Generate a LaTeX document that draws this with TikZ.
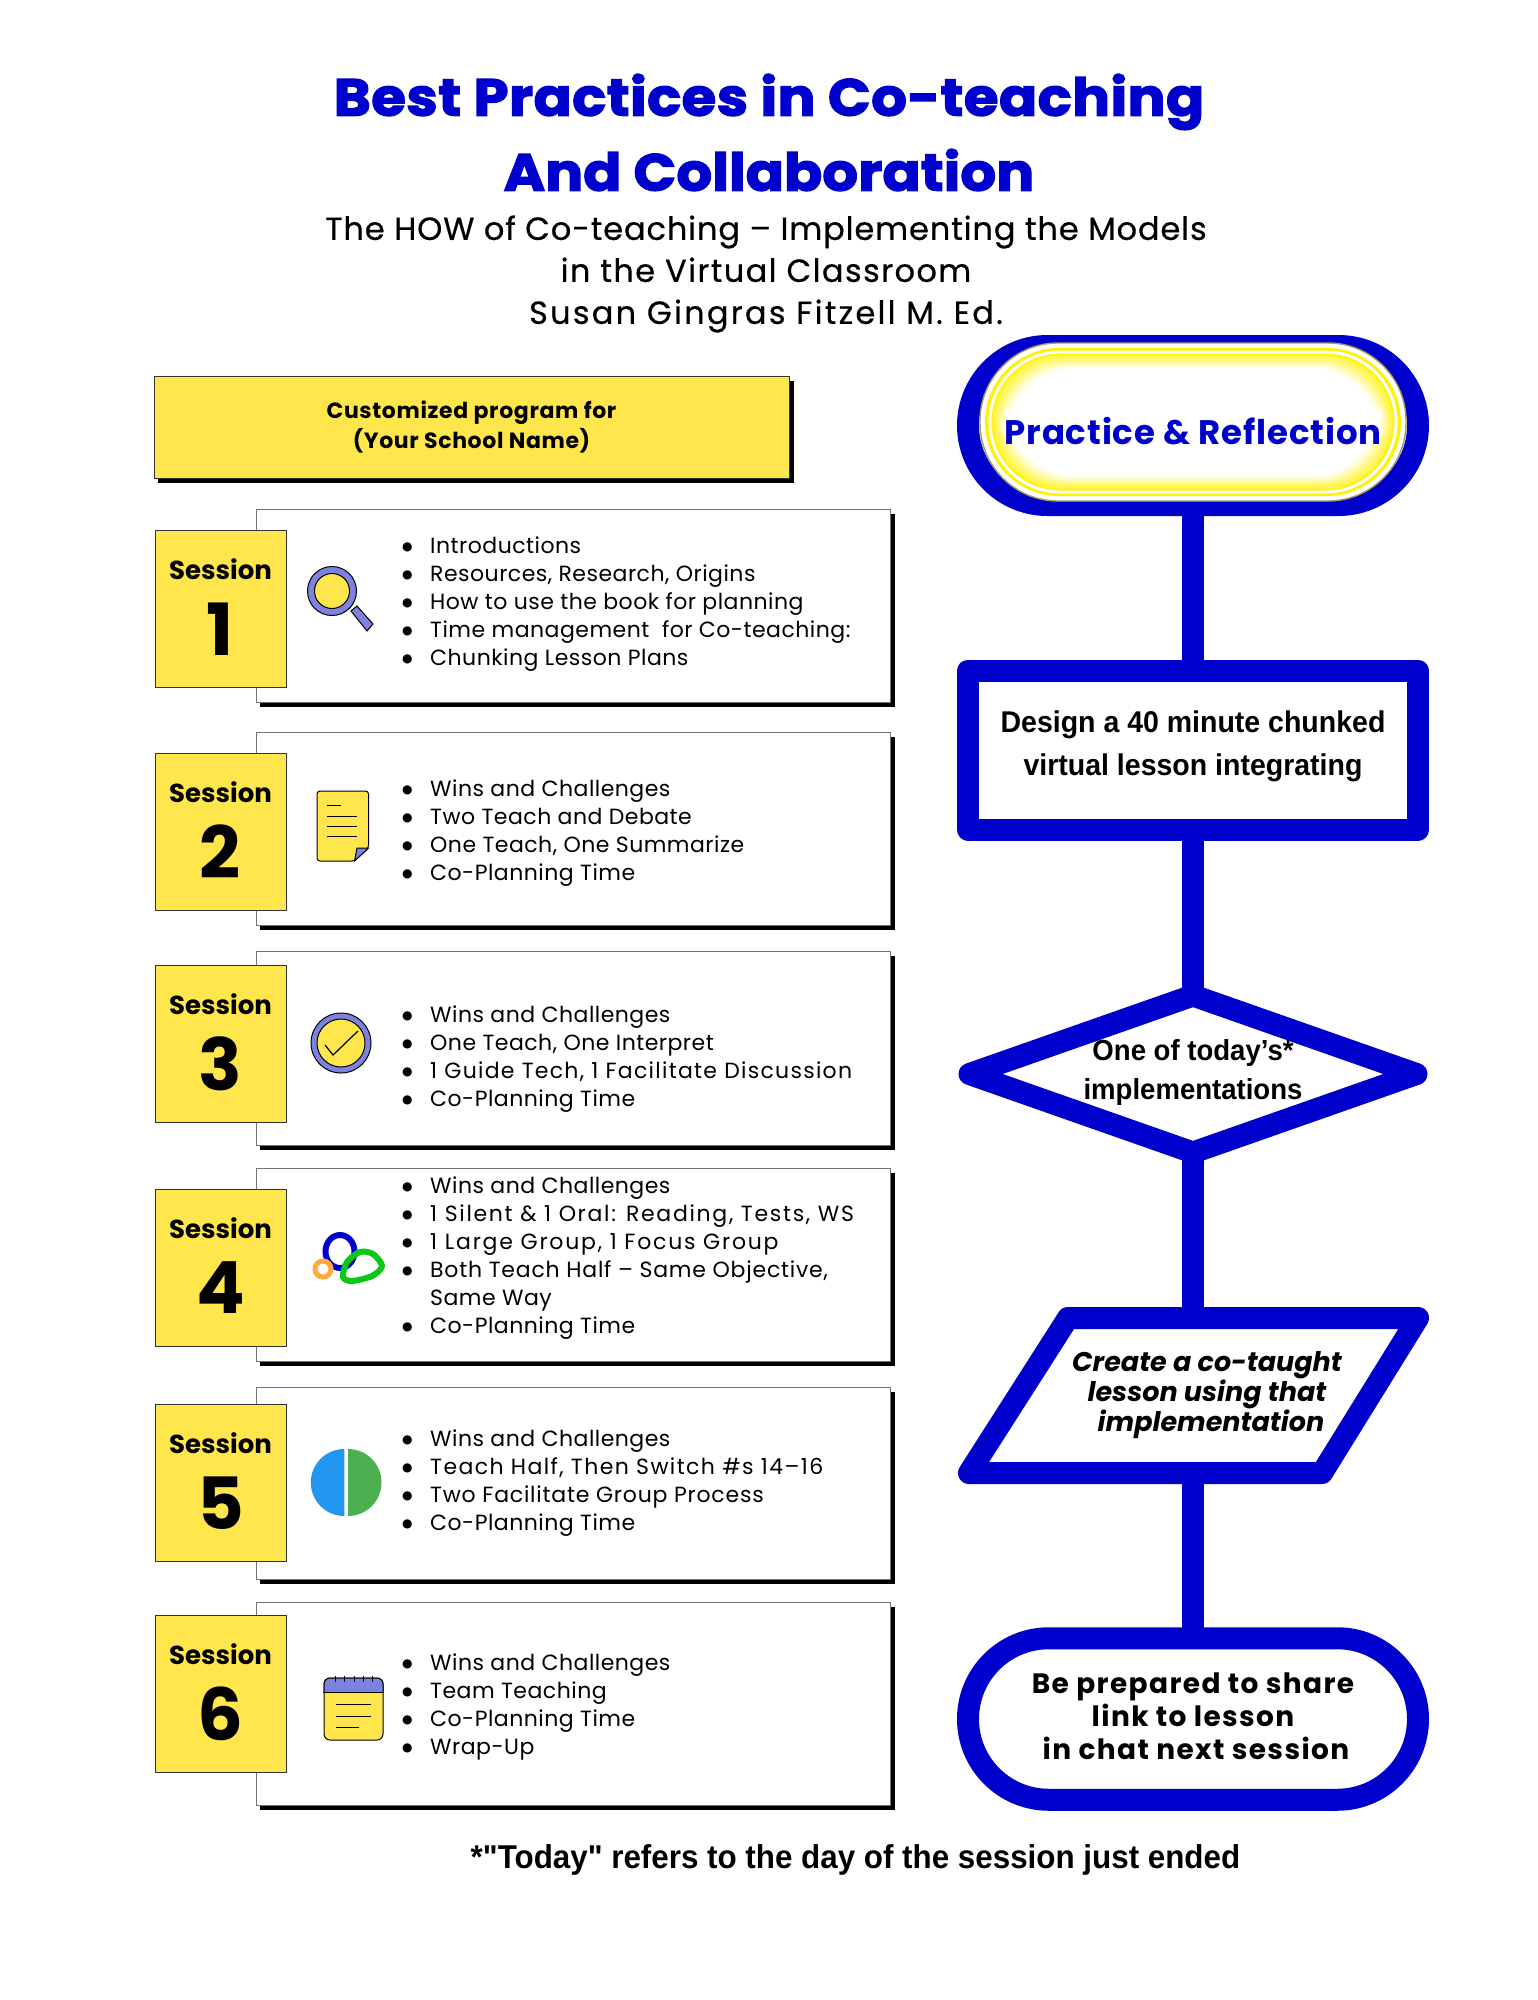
\documentclass[tikz,border=0pt]{standalone}
\usepackage{fontspec}
\usetikzlibrary{shapes.geometric,shapes.misc}
\setmainfont{Poppins}
\newfontfamily\robotofont{Liberation Sans}[FakeStretch=0.95]
\newfontfamily\bulletfont{DejaVu Sans}
\definecolor{flowblue}{RGB}{0,0,204}
\definecolor{tagyellow}{RGB}{255,230,77}
\definecolor{iconblue}{RGB}{125,130,222}
\definecolor{pieblue}{RGB}{33,150,243}
\definecolor{piegreen}{RGB}{76,175,80}
\definecolor{ringgreen}{RGB}{10,200,20}
\definecolor{ringorange}{RGB}{255,169,64}
\tikzset{
  flowline/.style={line width=22pt,draw=flowblue,line join=round},
  flowbox/.style={flowline,fill=white,outer sep=0pt,inner sep=0pt},
  flowtext/.style={align=center,font=\robotofont\bfseries\fontsize{30}{43}\selectfont},
  tagbox/.style={draw=black!80,fill=tagyellow,line width=1pt,inner sep=0pt},
  itemlist/.style={anchor=west,align=left,inner sep=0pt,font=\fontsize{22}{28}\selectfont\addfontfeatures{LetterSpace=2.2}},
  icon/.style={draw=black,line width=1pt}
}
\newcommand{\itm}{\makebox[27pt][l]{\hspace*{-1pt}\raisebox{3pt}{\bulletfont\fontsize{12}{12}\selectfont ●}}}
\newcommand{\wide}[2]{{\addfontfeatures{LetterSpace=#1}#2}}
\begin{document}
\begin{tikzpicture}[x=1pt,y=-1pt]
\useasboundingbox (0,0) rectangle (1538,2000);
% heading
\node[align=center,text=flowblue,font=\bfseries\fontsize{52}{75}\selectfont\addfontfeatures{FakeBold=2.5,FakeStretch=1.08,LetterSpace=1}] (title) at (769,132.5) {Best Practices in Co-teaching\\\wide{.3}{And Collaboration}};
\node[align=center,font=\fontsize{32}{42}\selectfont\addfontfeatures{FakeBold=.5,LetterSpace=2.8}] (subtitle) at (766,274) {The HOW of Co-teaching -- Implementing the Models\\\wide{4.4}{in the Virtual Classroom}\\\wide{7}{Susan Gingras Fitzell M. Ed.}};
% program box
\fill (158,381) rectangle (794,483);
\node[tagbox,minimum width=635pt,minimum height=102pt] (program) at (471.5,427) {};
\node[align=center,font=\bfseries\fontsize{22}{30}\selectfont\addfontfeatures{LetterSpace=2.9}] (programtext) at (program) {Customized program for\\(Your School Name)};
% sessions
\foreach \n/\top/\bot/\ytag in {1/509/702/530,2/732/925/753,3/951/1145/965,4/1168/1361/1189,5/1387/1579/1404,6/1602/1805/1615}{
  \fill (260,\top+5) rectangle (895,\bot+5);
  \draw[black!55,fill=white,line width=1pt] (256,\top) rectangle (890.5,\bot);
  \node[tagbox,minimum width=131pt,minimum height=157pt] (tag\n) at (220.5,\ytag+78.5) {};
  \node[font=\bfseries\fontsize{26}{30}\selectfont] (sess\n) at (220.5,\ytag+39) {Session};
  \node[font=\bfseries\fontsize{72}{80}\selectfont] (num\n) at (220.5,\ytag+99) {\n};
}
% item lists
\node[itemlist] (list1) at (403,604.5) {\itm Introductions\\\itm Resources, Research, Origins\\\itm How to use the book for planning\\\itm Time management\ \ for Co-teaching:\\\itm Chunking Lesson Plans};
\node[itemlist] (list2) at (403,833) {\itm Wins and Challenges\\\itm Two Teach and Debate\\\itm One Teach, One Summarize\\\itm Co-Planning Time};
\node[itemlist] (list3) at (403,1059) {\itm Wins and Challenges\\\itm One Teach, One Interpret\\\itm \wide{5.8}{1 Guide Tech, 1 Facilitate Discussion}\\\itm Co-Planning Time};
\node[itemlist] (list4) at (403,1258) {\itm Wins and Challenges\\\itm \wide{7.7}{1 Silent \& 1 Oral: Reading, Tests, WS}\\\itm \wide{8}{1 Large Group, 1 Focus Group}\\\itm \wide{3.5}{Both Teach Half -- Same Objective,}\\\hspace*{27pt}Same Way\\\itm Co-Planning Time};
\node[itemlist] (list5) at (403,1483) {\itm Wins and Challenges\\\itm \wide{6.4}{Teach Half, Then Switch \#s 14--16}\\\itm \wide{3.5}{Two Facilitate Group Process}\\\itm Co-Planning Time};
\node[itemlist] (list6) at (403,1707) {\itm Wins and Challenges\\\itm Team Teaching\\\itm Co-Planning Time\\\itm Wrap-Up};
% icons
\draw[icon,fill=iconblue] (351,611) -- (357,606) -- (373,624) -- (367,631) -- cycle;
\draw[icon,fill=iconblue] (332,591) circle (24.5);
\draw[icon,fill=tagyellow] (332,591) circle (17.5);
\draw[icon,fill=tagyellow,rounded corners=3pt] (317,791) -- (368.5,791) -- (368.5,848) -- (354.5,861) -- (317,861) -- cycle;
\draw[icon,fill=iconblue] (368.5,848) -- (357,848) -- (354.5,861) -- cycle;
\draw[line width=.8pt] (327,805) -- (341,805);
\foreach \y in {816,826,836} \draw[line width=.8pt] (327,\y) -- (357,\y);
\draw[icon,fill=iconblue] (341,1043) circle (30);
\draw[icon,fill=tagyellow] (341,1043) circle (24);
\draw[line width=1.2pt] (325,1045) -- (333,1055) -- (358,1031);
\draw[flowblue,line width=6pt] (340,1251.5) ellipse (14.5 and 16.5);
\draw[ringorange,line width=5pt] (323,1269) circle (8);
\draw[ringgreen,line width=6pt] plot[smooth cycle] coordinates {(343,1277) (347,1262) (360,1252) (373,1254) (382,1266) (372,1276) (352,1281)};
\fill[pieblue] (344.3,1516) arc (90:270:33.5) -- cycle;
\fill[piegreen] (348,1516) arc (90:-90:33.5) -- cycle;
\draw[icon,fill=tagyellow,rounded corners=6pt] (324,1678) rectangle (383,1740);
\draw[icon,fill=iconblue,rounded corners=6pt] (324,1692.5) -- (324,1678) -- (383,1678) -- (383,1692.5);
\draw[line width=1pt] (323,1692.5) -- (384,1692.5);
\foreach \x in {335,344,354,363,372} \draw[line width=1pt] (\x,1675.5) -- (\x,1682);
\draw[line width=1pt] (336,1704) -- (371,1704);
\draw[line width=1pt] (336,1716) -- (371,1716);
\draw[line width=1pt] (336,1727.5) -- (359,1727.5);
% flow chart
\node[flowbox,rounded rectangle,minimum width=450pt,minimum height=159pt] (practice) at (1193,425.5) {};
\foreach \i in {0,...,4}{
  \pgfmathsetmacro{\p}{100-\i*9}
  \draw[line width=1.4pt,draw=yellow!\p!flowblue,fill=white,rounded corners=78pt] (984-\i,347-\i) rectangle (1402+\i,497+\i);
}
\fill[yellow,rounded corners=74pt] (985,348) rectangle (1401,496);
\draw[line width=3pt,white,fill=yellow,rounded corners=70pt] (990,352) rectangle (1396,492);
\foreach \i in {1,...,10}{
  \pgfmathsetmacro{\p}{90-\i*9}
  \draw[line width=2pt,draw=yellow!\p!white,fill=white,rounded corners=68pt] (992+\i*1.5,354+\i*1.5) rectangle (1394-\i*1.5,490-\i*1.5);
}
\node[text=flowblue,font=\bfseries\fontsize{34}{40}\selectfont\addfontfeatures{LetterSpace=2.5}] (practicetext) at (1193,431) {Practice \& Reflection};
\node[flowbox,minimum width=450pt,minimum height=159pt] (design) at (1193,750) {};
\node[flowtext] (designtext) at (1193,746) {Design a 40 minute chunked\\virtual lesson integrating};
\node[flowbox,diamond,minimum width=447pt,minimum height=157pt] (choice) at (1193,1074) {};
\node[flowtext,font=\robotofont\bfseries\fontsize{29}{39}\selectfont] (choicetext) at (1193,1072) {One of today’s*\\implementations};
\coordinate (createtop) at (1193,1318);
\coordinate (createbot) at (1193,1473);
\draw[flowline,fill=white] (1068,1318) -- (1418,1318) -- (1322,1473) -- (969,1473) -- cycle;
\node[align=center,font=\bfseries\itshape\fontsize{27}{30}\selectfont] (createtext) at (1207,1395) {Create a co-taught\\lesson using that\\\hspace*{8pt}implementation};
\node[flowbox,rounded rectangle,minimum width=450pt,minimum height=161.5pt] (share) at (1193,1719) {};
\node[align=center,font=\bfseries\fontsize{28}{33}\selectfont\addfontfeatures{LetterSpace=5}] (sharetext) at (1193,1716.5) {Be prepared to share\\link to lesson\\\hspace*{6pt}in chat next session};
% connectors
\draw[flowline] (practice.south) -- (design.north);
\draw[flowline] (design.south) -- (choice.north);
\draw[flowline] (choice.south) -- (createtop);
\draw[flowline] (createbot) -- (share.north);
% footnote
\node[font=\robotofont\bfseries\fontsize{33}{38}\selectfont] (footnote) at (855.5,1860) {*"Today" refers to the day of the session just ended};
\end{tikzpicture}
\end{document}
